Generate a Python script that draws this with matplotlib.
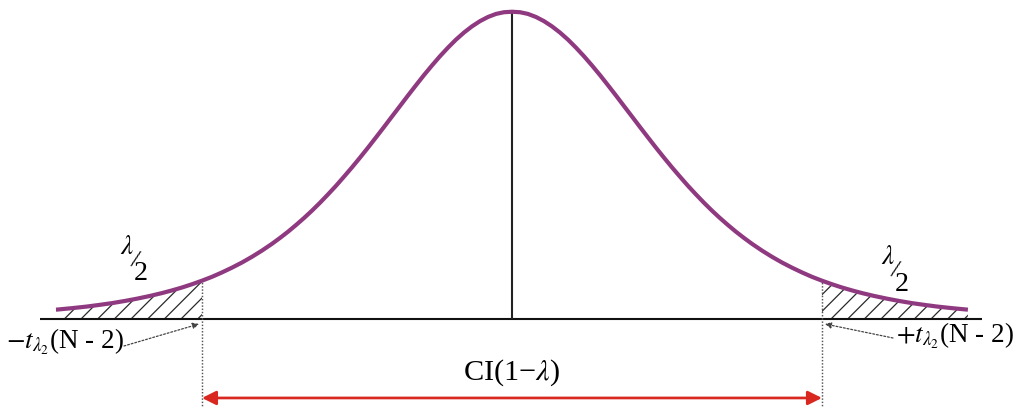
import matplotlib
matplotlib.use("Agg")
import matplotlib.pyplot as plt
import numpy as np

plt.rcParams['font.family'] = ['Liberation Serif', 'DejaVu Serif']
plt.rcParams['mathtext.fontset'] = 'stix'
plt.rcParams['hatch.linewidth'] = 0.6

# right half of the (symmetric) density curve
t_half = [0.000, 0.065, 0.129, 0.194, 0.258, 0.323, 0.387, 0.452, 0.516, 0.581,
          0.645, 0.710, 0.774, 0.839, 0.903, 0.968, 1.032, 1.097, 1.161, 1.226,
          1.290, 1.355, 1.419, 1.484, 1.548, 1.613, 1.677, 1.742, 1.806, 1.871,
          1.935, 2.016, 2.097, 2.177, 2.258, 2.339, 2.419, 2.500, 2.581, 2.661,
          2.742, 2.823, 2.919, 3.024, 3.121, 3.226, 3.323, 3.427, 3.548, 3.677]
dens_half = [0.3800, 0.3794, 0.3773, 0.3735, 0.3684, 0.3619, 0.3543, 0.3455, 0.3357, 0.3250,
             0.3137, 0.3017, 0.2893, 0.2765, 0.2636, 0.2506, 0.2377, 0.2248, 0.2122, 0.1998,
             0.1879, 0.1763, 0.1651, 0.1544, 0.1442, 0.1344, 0.1253, 0.1166, 0.1084, 0.1007,
             0.0935, 0.0851, 0.0774, 0.0704, 0.0640, 0.0581, 0.0527, 0.0479, 0.0435, 0.0395,
             0.0359, 0.0326, 0.0291, 0.0257, 0.0229, 0.0202, 0.0181, 0.0160, 0.0140, 0.0121]
t_crit = 2.5

left_label = r"$-t_{\lambda_2}$(N - 2)"
right_label = r"$+t_{\lambda_2}$(N - 2)"
ci_label = "CI(1\u2212$\\lambda$)"

th = np.array(t_half)
dh = np.array(dens_half)
x = np.concatenate([-th[::-1], th[1:]])
y = np.concatenate([dh[::-1], dh[1:]])
y_crit = dh[np.argmin(np.abs(th - t_crit))]

W, H, dpi = 1018, 408, 150
fig = plt.figure(figsize=(W / dpi, H / dpi), dpi=dpi)
ax = fig.add_axes([0, 0, 1, 1])
ax.set_xlim(-4.129, 4.081)
ax.set_ylim(-0.1093, 0.3945)
ax.axis('off')


def px(xp, yp):
    # pixel position in the picture -> data coords
    return (xp - 512) / 124, (319.5 - yp) * 0.38 / 307.8


curve_col = '#8f3a80'

# hatched tails
left = x <= -t_crit
right = x >= t_crit
for m in (left, right):
    ax.fill_between(x[m], y[m], 0, facecolor='none', edgecolor='#2a2a2a',
                    hatch='///', linewidth=0)

# baseline and centre line
ax.hlines(0, -3.81, 3.79, color='#111111', lw=1.0)
ax.vlines(0, 0, y.max(), color='#222222', lw=1.0)

# critical values
ax.vlines([-t_crit, t_crit], -0.11, y_crit, color='#555555', lw=0.7,
          linestyles=(0, (1, 1.2)))

ax.plot(x, y, color=curve_col, lw=2.0, solid_capstyle='butt', zorder=5)

# lambda/2 labels
for (lx, ly), (sx, sy), (nx, ny) in [((127, 248), (135, 261), (141, 274)),
                                       ((888, 258), (895, 271), (902, 285))]:
    ax.text(*px(lx, ly), r"$\lambda$", fontsize=13, ha='center', va='center')
    ax.text(*px(sx, sy), "/", fontsize=12, ha='center', va='center', rotation=-15)
    ax.text(*px(nx, ny), "2", fontsize=13.5, ha='center', va='center')

# critical value labels with leader arrows
ax.text(*px(6, 342), left_label, fontsize=13, ha='left', va='center')
ax.text(*px(896, 336), right_label, fontsize=13, ha='left', va='center')
ax.annotate('', xy=px(199, 324), xytext=px(124, 346),
            arrowprops=dict(arrowstyle='-|>', color='#444444', lw=0.6,
                            linestyle=(0, (1.5, 1.5)), mutation_scale=6,
                            shrinkA=0, shrinkB=0))
ax.annotate('', xy=px(825, 324), xytext=px(893, 338),
            arrowprops=dict(arrowstyle='-|>', color='#444444', lw=0.6,
                            linestyle=(0, (1.5, 1.5)), mutation_scale=6,
                            shrinkA=0, shrinkB=0))

# confidence interval arrow
y_arr = px(0, 398)[1]
ax.annotate('', xy=(t_crit, y_arr), xytext=(-t_crit, y_arr),
            arrowprops=dict(arrowstyle='<|-|>', color='#d8281f', lw=1.3,
                            mutation_scale=14, shrinkA=0, shrinkB=0))
ax.text(*px(512, 373), ci_label, fontsize=14.5, ha='center', va='center')

fig.savefig('out.png', dpi=dpi, facecolor='white')
